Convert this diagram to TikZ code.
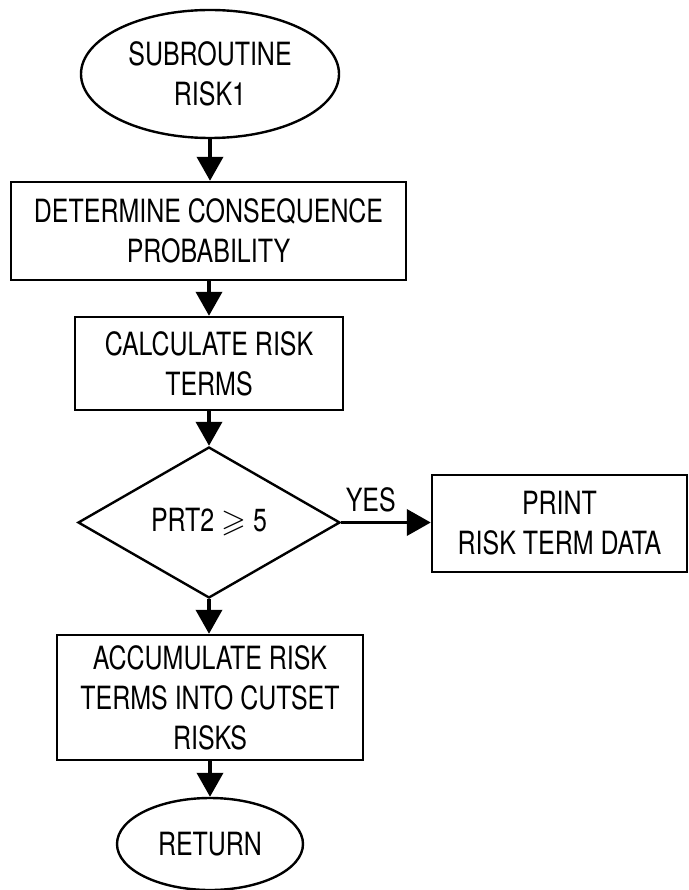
\documentclass[tikz,border=0pt]{standalone}
\usepackage{fontspec}
\setmainfont{TeX Gyre Heros}[FakeStretch=0.78]
\usepackage{amssymb}
\usetikzlibrary{shapes.geometric,arrows.meta}
\begin{document}
\begin{tikzpicture}[x=1pt,y=-1pt,
  every node/.style={font=\fontsize{32}{40}\selectfont, align=center, inner sep=0pt},
  terminal/.style={draw, line width=2.4pt, ellipse},
  procbox/.style={draw, line width=2.4pt, rectangle},
  decision/.style={draw, line width=2.4pt, diamond},
  flow/.style={line width=3.8pt, -{Triangle[width=26pt,length=24pt]}}]
  \useasboundingbox (0,0) rectangle (688,890);
  % start terminal
  \node[terminal, minimum width=258pt, minimum height=128pt] (start) at (210,74)
    {SUBROUTINE\\RISK1};
  % processing steps
  \node[procbox, minimum width=395pt, minimum height=98pt] (det) at (208.5,231)
    {DETERMINE CONSEQUENCE\\PROBABILITY};
  \node[procbox, minimum width=268pt, minimum height=93pt] (calc) at (209,363.5)
    {CALCULATE RISK\\TERMS};
  % decision
  \node[decision, minimum width=262pt, minimum height=151pt] (dec) at (209,522.5)
    {PRT2 $\geqslant$ 5};
  \node[procbox, minimum width=255pt, minimum height=97pt] (prt) at (559.5,523.5)
    {PRINT\\RISK TERM DATA};
  \node[procbox, minimum width=306pt, minimum height=125pt] (acc) at (210,697.5)
    {ACCUMULATE RISK\\TERMS INTO CUTSET\\RISKS};
  % end terminal
  \node[terminal, minimum width=186pt, minimum height=92pt] (ret) at (210,844)
    {RETURN};
  % connectors
  \draw[flow] (start.south) -- (start.south |- det.north);
  \draw[flow] (det.south -| calc.north) -- (calc.north);
  \draw[flow] (calc.south) -- (dec.north);
  \draw[flow] (dec.east) -- node[pos=0.33, above=9pt, inner sep=0pt] {YES} (dec.east -| prt.west);
  \draw[flow] (dec.south) -- (dec.south |- acc.north);
  \draw[flow] (acc.south -| ret.north) -- (ret.north);
\end{tikzpicture}
\end{document}
